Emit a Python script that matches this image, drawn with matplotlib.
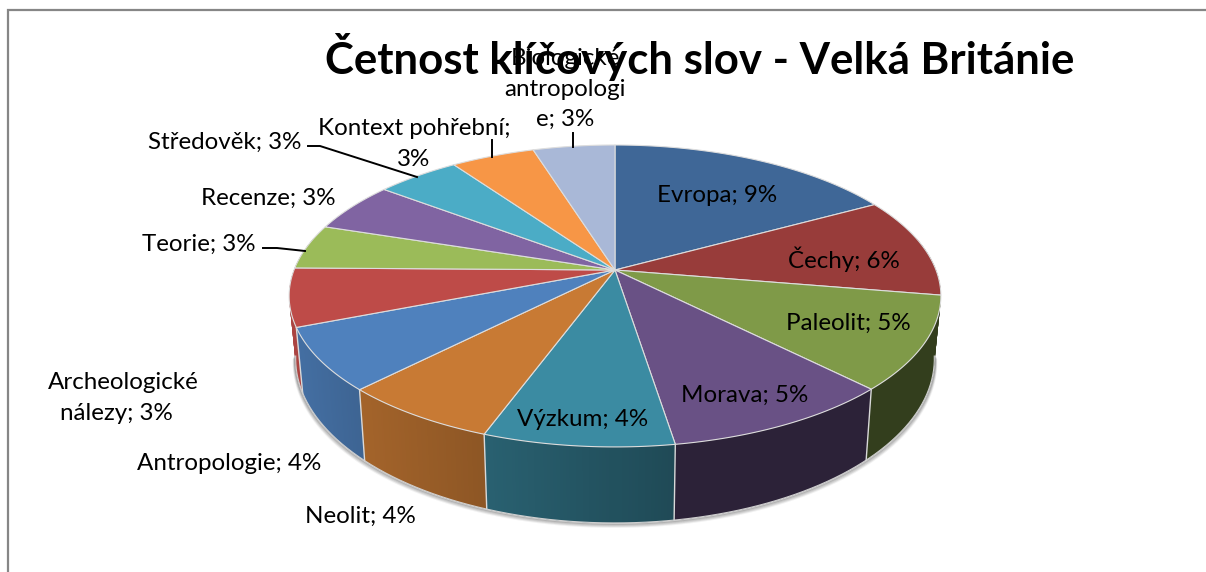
import matplotlib
matplotlib.use("Agg")
import matplotlib.pyplot as plt
import numpy as np
from matplotlib.collections import PolyCollection
from matplotlib.colors import to_rgb
from matplotlib.patches import Polygon

plt.rcParams['font.family'] = ['Lato', 'DejaVu Sans']

# data
title = "Četnost klíčových slov - Velká Británie"
names = ["Evropa", "Čechy", "Paleolit", "Morava", "Výzkum", "Neolit", "Antropologie",
         "Archeologické\nnálezy", "Teorie", "Recenze", "Středověk", "Kontext pohřební",
         "Biologické\nantropologi\ne"]
values = [8.99, 5.66, 5.29, 5.22, 4.26, 3.57, 3.56, 3.29, 2.54, 2.84, 2.60, 2.60, 2.54]

# styles
top_colors = ["#3f6797", "#983c3a", "#7f9a48", "#695185", "#3b8ba2", "#c87a34", "#4f81bd",
              "#be4b48", "#9bbb59", "#8064a2", "#4bacc6", "#f79646", "#a9b8d7"]
wall_shades = [(.4, .4), (.4, .4), (.4, .4), (.42, .42), (.7, .53), (.82, .71), (.86, .78),
               (.9, .9), (.9, .9), (.9, .9), (.9, .9), (.9, .9), (.9, .9)]
# centre of each label in pixels
label_pos = [(717, 196), (844, 259), (848, 323), (745, 395), (583, 420), (360, 516), (229, 463),
             (123, 398), (199, 244), (268, 198), (225, 142), (414, 144), (565, 89)]
leaders = [[(263, 248), (277, 248), (305, 251)],
           [(308, 146), (320, 146), (417, 177)],
           [(492, 140), (492, 157)],
           [(573, 133), (573, 147)]]

cx, cy = 615, 270
rx, ry, k = 321, 146.5, 0.172


def project(theta):
    # circle seen in perspective, theta clockwise from the top
    u, v = np.sin(theta), -np.cos(theta)
    return cx + rx * u / (1 - k * v), cy + ry * v / (1 - k * v)


def lower(x, y):
    # rim of the bottom face under a point of the top rim
    return cx + 0.98 * (x - cx), y + 76 - 0.088 * (447 - y)


fig = plt.figure(figsize=(12.06, 5.72), dpi=100)
ax = fig.add_axes([0, 0, 1, 1])
ax.set_xlim(0, 1206)
ax.set_ylim(572, 0)
ax.axis("off")

# outer frame
ax.plot([7.5, 7.5, 1206], [572, 9.5, 9.5], color="#868686", lw=1.6, solid_joinstyle="miter")

edges = np.radians(np.concatenate([[0], np.cumsum(values)]) / np.sum(values) * 360)

# soft shadow under the pie
t = np.linspace(np.pi * 0.55, np.pi * 1.45, 300)
sx, sy = lower(*project(t))
for off, alpha in zip([4, 3, 2, 1], [.08, .14, .2, .3]):
    ax.plot(sx + off * 0.5 * np.sin(t), sy + off, color="#555555", alpha=alpha, lw=1.5, zorder=1)

# side walls, back to front; strips overlap so no seams show
polys, cols, depth = [], [], []
for i in range(len(values)):
    t = np.linspace(edges[i], edges[i + 1], 60)
    x, y = project(t)
    xb, yb = lower(x, y)
    base = np.array(to_rgb(top_colors[i]))
    for j in range(len(t) - 1):
        if np.cos(t[j]) > 0.3:
            continue
        a, b = max(j - 1, 0), min(j + 2, len(t) - 1)
        polys.append([(x[a], y[a]), (x[b], y[b]), (xb[b], yb[b]), (xb[a], yb[a])])
        s = np.interp(x[j], [x.min(), x.max()], wall_shades[i])
        cols.append(base * s)
        depth.append(-np.cos(t[j]))
order = np.argsort(depth)
ax.add_collection(PolyCollection([polys[n] for n in order], facecolors=[cols[n] for n in order],
                                 edgecolors="none", zorder=2))

# wall seams and lower rim
for e in edges:
    if np.cos(e) < -0.3:
        x, y = project(e)
        xb, yb = lower(x, y)
        ax.plot([x, xb], [y, yb], color="#d9d9d9", lw=1, zorder=3)
ax.plot(sx, sy, color="#d0d0d0", lw=0.8, zorder=3)

# top faces
for i in range(len(values)):
    t = np.linspace(edges[i], edges[i + 1], 80)
    x, y = project(t)
    ax.add_patch(Polygon(np.column_stack([np.r_[cx, x], np.r_[cy, y]]), closed=True,
                         facecolor=top_colors[i], edgecolor="#dddddd", lw=0.8,
                         joinstyle="round", zorder=4))

ax.text(700, 57, title, fontsize=31.5, fontweight="bold", color="black", ha="center", va="center", zorder=5)

for name, val, pos in zip(names, values, label_pos):
    sep = ";\n" if name == "Kontext pohřební" else "; "
    txt = f"{name}{sep}{round(val)}%"
    if name.startswith("Archeologické"):
        txt += "  "
    ax.text(pos[0], pos[1], txt, fontsize=17.4, color="black", ha="center", va="center",
            linespacing=1.55, zorder=6)

for pts in leaders:
    ax.plot(*zip(*pts), color="black", lw=1.4, zorder=5)

fig.savefig("out.png", dpi=100)
